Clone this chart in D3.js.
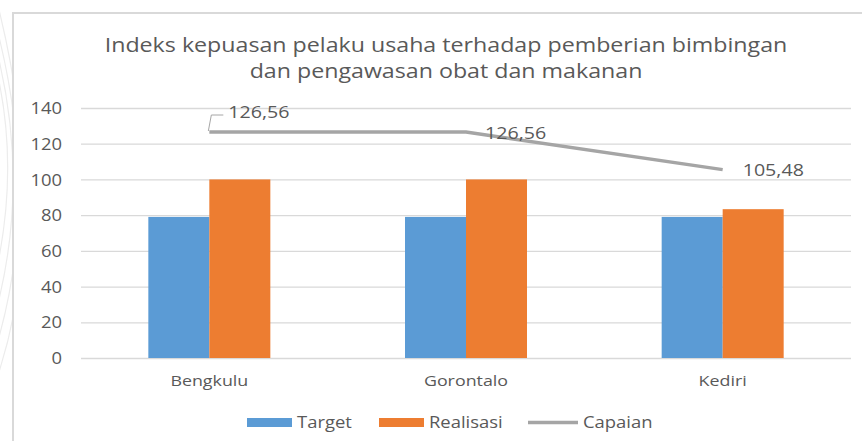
<!DOCTYPE html>
<html>
<head>
<meta charset="utf-8">
<script src="https://cdn.jsdelivr.net/npm/d3@7"></script>
<style>
  html, body { margin: 0; padding: 0; background: #ffffff; }
  svg { display: block; }
  text { font-family: "Open Sans", "Noto Sans", sans-serif; fill: #595959; }
</style>
</head>
<body>
<svg id="chart" width="862" height="441"></svg>
<script>
// Chart data
const categories = ["Bengkulu", "Gorontalo", "Kediri"];
const target = [79.01, 79.01, 79.01];
const realisasi = [100, 100, 83.34];
const capaian = [126.56, 126.56, 105.48];
const capaianLabels = ["126,56", "126,56", "105,48"];
const yTicks = [0, 20, 40, 60, 80, 100, 120, 140];
const titleLines = [
  "Indeks kepuasan pelaku usaha terhadap pemberian bimbingan",
  "dan pengawasan obat dan makanan"
];
const seriesNames = ["Target", "Realisasi", "Capaian"];
const colors = { Target: "#5b9bd5", Realisasi: "#ed7d31", Capaian: "#a5a5a5" };

const svg = d3.select("#chart");
const W = 862, H = 441;
const plot = { left: 81, right: 851, top: 108, bottom: 358 };
const K = 1.19; // horizontal widening of the lettering

// widen text horizontally around its anchor point
function widen(sel) {
  sel.each(function () {
    const t = d3.select(this);
    const tx = +t.attr("x") || 0, ty = +t.attr("y") || 0;
    t.attr("x", 0).attr("y", 0).attr("transform", `translate(${tx},${ty}) scale(${K},1)`);
  });
}

// faint decorative strokes along the left edge
const deco = svg.append("g").attr("fill", "none").attr("stroke", "#ececec").attr("stroke-width", 1.2);
[0, 1, 2, 3].forEach(i => {
  deco.append("path")
    .attr("d", `M${-30 + i * 8},${-10} Q${40 + i * 4},${150 + i * 20} ${-20 + i * 6},${330 + i * 15}`);
});

// chart frame (top and left edge)
svg.append("rect").attr("x", 13).attr("y", 13).attr("width", W).attr("height", H)
  .attr("fill", "#ffffff").attr("stroke", "#d9d9d9").attr("stroke-width", 2);

// title
svg.append("g").selectAll("text").data(titleLines).join("text")
  .attr("x", 446).attr("y", (d, i) => 52 + i * 26)
  .attr("text-anchor", "middle").attr("font-size", 19.5)
  .text(d => d)
  .call(widen);

const x = d3.scaleBand().domain(categories).range([plot.left, plot.right]).paddingInner(0).paddingOuter(0);
const y = d3.scaleLinear().domain([0, 140]).range([plot.bottom, plot.top]);
const barW = 61;

// gridlines + y-axis labels
const yAxis = d3.axisLeft(y).tickValues(yTicks).tickSize(-(plot.right - plot.left)).tickPadding(19);
const gy = svg.append("g").attr("transform", `translate(${plot.left},0)`).call(yAxis);
gy.select(".domain").remove();
gy.selectAll(".tick line").attr("stroke", "#d9d9d9").attr("stroke-width", 1.3);
gy.selectAll(".tick text").attr("font-size", 15.5).attr("fill", "#595959")
  .style("font-family", "'Open Sans', sans-serif")
  .attr("dy", "0.36em").attr("x", -19)
  .call(widen);

// x-axis labels
const xAxis = d3.axisBottom(x).tickSize(0).tickPadding(17);
const gx = svg.append("g").attr("transform", `translate(0,${plot.bottom})`).call(xAxis);
gx.select(".domain").remove();
gx.selectAll(".tick text").attr("font-size", 15).attr("fill", "#595959")
  .style("font-family", "'Open Sans', sans-serif")
  .call(widen);

// bars
const cx = c => x(c) + x.bandwidth() / 2;
svg.append("g").selectAll("rect").data(categories).join("rect")
  .attr("x", c => cx(c) - barW).attr("width", barW)
  .attr("y", (c, i) => y(target[i])).attr("height", (c, i) => y(0) - y(target[i]))
  .attr("fill", colors.Target);
svg.append("g").selectAll("rect").data(categories).join("rect")
  .attr("x", c => cx(c)).attr("width", barW)
  .attr("y", (c, i) => y(realisasi[i])).attr("height", (c, i) => y(0) - y(realisasi[i]))
  .attr("fill", colors.Realisasi);

// capaian line
const line = d3.line().x((d, i) => cx(categories[i])).y(d => y(d));
svg.append("path").datum(capaian).attr("d", line)
  .attr("fill", "none").attr("stroke", colors.Capaian).attr("stroke-width", 3.5);

// leader line for the first label
const p0x = cx(categories[0]), p0y = y(capaian[0]);
svg.append("path")
  .attr("d", `M${p0x - 1},${p0y - 1} L${p0x + 2},${p0y - 17} L${p0x + 14},${p0y - 17}`)
  .attr("fill", "none").attr("stroke", "#a6a6a6").attr("stroke-width", 1);

// value labels
const labelOffsets = [[19, -14], [19, 7], [20, 6]];
svg.append("g").selectAll("text").data(capaian).join("text")
  .attr("x", (d, i) => cx(categories[i]) + labelOffsets[i][0])
  .attr("y", (d, i) => y(d) + labelOffsets[i][1])
  .attr("font-size", 16.5)
  .text((d, i) => capaianLabels[i])
  .call(widen);

// legend
const legend = svg.append("g").attr("transform", "translate(0,422)");
const legendItems = [
  { name: seriesNames[0], x: 247, type: "rect" },
  { name: seriesNames[1], x: 379, type: "rect" },
  { name: seriesNames[2], x: 528, type: "line" }
];
legendItems.forEach(it => {
  if (it.type === "rect") {
    legend.append("rect").attr("x", it.x).attr("y", -4).attr("width", 45).attr("height", 9)
      .attr("fill", colors[it.name]);
  } else {
    legend.append("line").attr("x1", it.x).attr("x2", it.x + 50).attr("y1", 0.5).attr("y2", 0.5)
      .attr("stroke", colors[it.name]).attr("stroke-width", 3.5);
  }
  legend.append("text").attr("x", it.x + (it.type === "rect" ? 50 : 55)).attr("y", 6)
    .attr("font-size", 15.5).text(it.name)
    .call(widen);
});
</script>
</body>
</html>
